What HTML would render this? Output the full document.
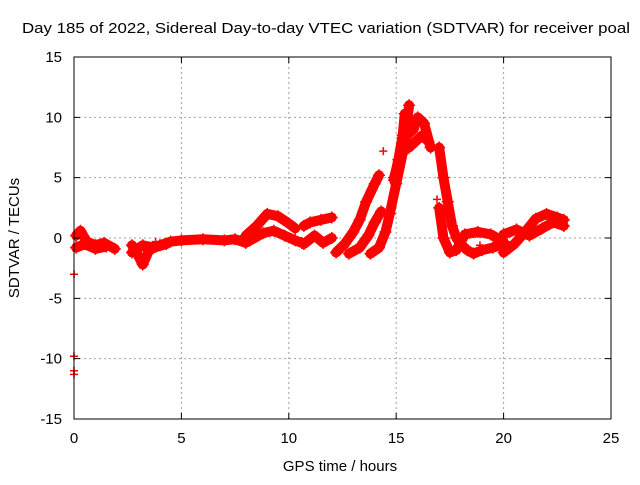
<!DOCTYPE html>
<html><head><meta charset="utf-8"><style>
body{margin:0;background:#fff}
svg text{font-family:"Liberation Sans",sans-serif;font-size:15px;fill:#000}
</style></head><body>
<svg id="c" width="640" height="480">
<rect x="0" y="0" width="640" height="480" fill="#fff"/>
<g id="grid"></g>
<g id="data"></g>
<rect x="74" y="57" width="537" height="362" fill="none" stroke="#000" stroke-width="1"/>
<g id="ticks"></g>
<text x="22" y="33" textLength="608" lengthAdjust="spacingAndGlyphs">Day 185 of 2022, Sidereal Day-to-day VTEC variation (SDTVAR) for receiver poal</text>
<text x="340" y="471" text-anchor="middle">GPS time / hours</text>
<text transform="translate(19,238) rotate(-90)" text-anchor="middle">SDTVAR / TECUs</text>
</svg>
<script>
const xTicks=[0,5,10,15,20,25];
const yTicks=[-15,-10,-5,0,5,10,15];
const track1=[[0.1,0.2],[0.3,0.6],[0.6,-0.3],[1.0,-0.6],[1.4,-0.4],[1.9,-0.9]];
const track1b=[[0.1,-0.8],[0.5,-0.5],[1.0,-0.9],[1.5,-0.7]];
const track2=[[2.7,-0.6],[3.0,-1.5],[3.2,-2.2],[3.5,-1.0],[4.0,-0.6],[4.5,-0.3],[5,-0.2],[6,-0.1],[7,-0.2],[7.5,-0.1],[8,-0.4]];
const track2b=[[2.7,-1.2],[3.2,-0.6],[3.7,-0.8],[4.3,-0.5]];
const track3=[[8.0,0.2],[8.5,1.0],[9.0,2.0],[9.5,1.8],[10.0,1.2],[10.3,0.8]];
const track3b=[[8.2,-0.2],[8.8,0.4],[9.3,0.6],[9.8,0.2],[10.3,-0.2],[10.6,-0.4]];
const track4=[[10.7,1.0],[11,1.3],[11.5,1.5],[12,1.7]];
const track4b=[[10.7,-0.5],[11.2,0.2],[11.6,-0.4],[12,0.0]];
const track5=[[12.2,-1.2],[12.6,-0.5],[13.0,0.5],[13.3,1.5],[13.6,3.0],[14,4.5],[14.2,5.2]];
const track5b=[[12.8,-1.3],[13.3,-0.8],[13.7,0.2],[14,1.3],[14.3,2.2]];
const track5c=[[13.8,-1.3],[14.2,-0.8],[14.5,0.5],[14.7,2.0],[15.0,4.5],[15.3,7.0],[15.5,9.5],[15.6,11]];
const track5d=[[14.9,4.8],[15.1,6.5],[15.3,8.5],[15.4,10.3]];
const track6=[[14.9,5],[15.2,7],[15.5,8.5],[15.8,9.0],[16.0,10],[16.3,9.5],[16.6,7.5]];
const track6b=[[15.6,7.5],[15.9,8.0],[16.2,8.5],[16.5,8.0]];
const track7=[[17.0,7.5],[17.2,5],[17.4,3],[17.6,1.0],[17.8,0.0],[18.0,-0.5],[18.3,-1.0],[18.6,-1.3],[19,-1],[19.5,-0.8],[20,-0.5]];
const track7b=[[17,2.5],[17.2,0],[17.5,-1.2],[17.8,-1.0],[18.2,0.3],[18.8,0.5],[19.4,0.3],[20,-0.3]];
const track8=[[20.0,-1.2],[20.5,-0.5],[21,0.5],[21.5,1.6],[22,2.0],[22.5,1.7],[22.8,1.5]];
const track8b=[[20,0.3],[20.6,0.7],[21.2,0.2],[21.8,0.8],[22.3,1.3],[22.8,1.0]];
const isolated=[[0,-3],[0,-9.8],[0,-11],[0,-11.3],[16.9,3.2],[14.4,7.2],[3.8,-0.3],[18.9,-0.6]];
const tracks=[track1,track1b,track2,track2b,track3,track3b,track4,track4b,track5,track5b,track5c,track5d,track6,track6b,track7,track7b,track8,track8b];

const X=v=>74+v*(537/25);
const Y=v=>238-v*(362/30);
const NS='http://www.w3.org/2000/svg';
const grid=document.getElementById('grid'),ticks=document.getElementById('ticks'),data=document.getElementById('data');
function mk(tag,attrs,parent){const e=document.createElementNS(NS,tag);for(const k in attrs)e.setAttribute(k,attrs[k]);parent.appendChild(e);return e;}
xTicks.forEach(t=>{
  const x=X(t);
  if(t>0&&t<25){const g=mk('line',{x1:x,x2:x,y1:57,y2:419,stroke:'#a0a0a0','stroke-dasharray':'2,3'},grid);
  
  }
  const a=mk('path',{d:`M${x},419v-6M${x},57v6`,stroke:'#000'},ticks);
  
  
  const l=mk('text',{x:x,y:443,'text-anchor':'middle'},ticks);l.textContent=t;
  
  
});
yTicks.forEach(t=>{
  const y=Y(t);
  if(t>-15&&t<15){const g=mk('line',{x1:74,x2:611,y1:y,y2:y,stroke:'#a0a0a0','stroke-dasharray':'2,3'},grid);
  
  }
  const a=mk('path',{d:`M74,${y}h6M611,${y}h-6`,stroke:'#000'},ticks);
  
  
  const l=mk('text',{x:62,y:y+5,'text-anchor':'end'},ticks);l.textContent=t;
  
  
});
tracks.forEach(tr=>{
  const p=mk('polyline',{points:tr.map(d=>X(d[0])+','+Y(d[1])).join(' '),fill:'none',stroke:'#f00','stroke-width':10,'stroke-linejoin':'round','stroke-linecap':'round'},data);
  
  
  tr.forEach(d=>{
    const m=mk('path',{d:`M${X(d[0])-6},${Y(d[1])}h12M${X(d[0])},${Y(d[1])-6}v12`,stroke:'#f00','stroke-width':1.5},data);
    
    
  });
});
isolated.forEach(d=>{
  const m=mk('path',{d:`M${X(d[0])-4},${Y(d[1])}h8M${X(d[0])},${Y(d[1])-4}v8`,stroke:'#f00','stroke-width':1.5},data);
  
  
});
</script>
</body></html>
